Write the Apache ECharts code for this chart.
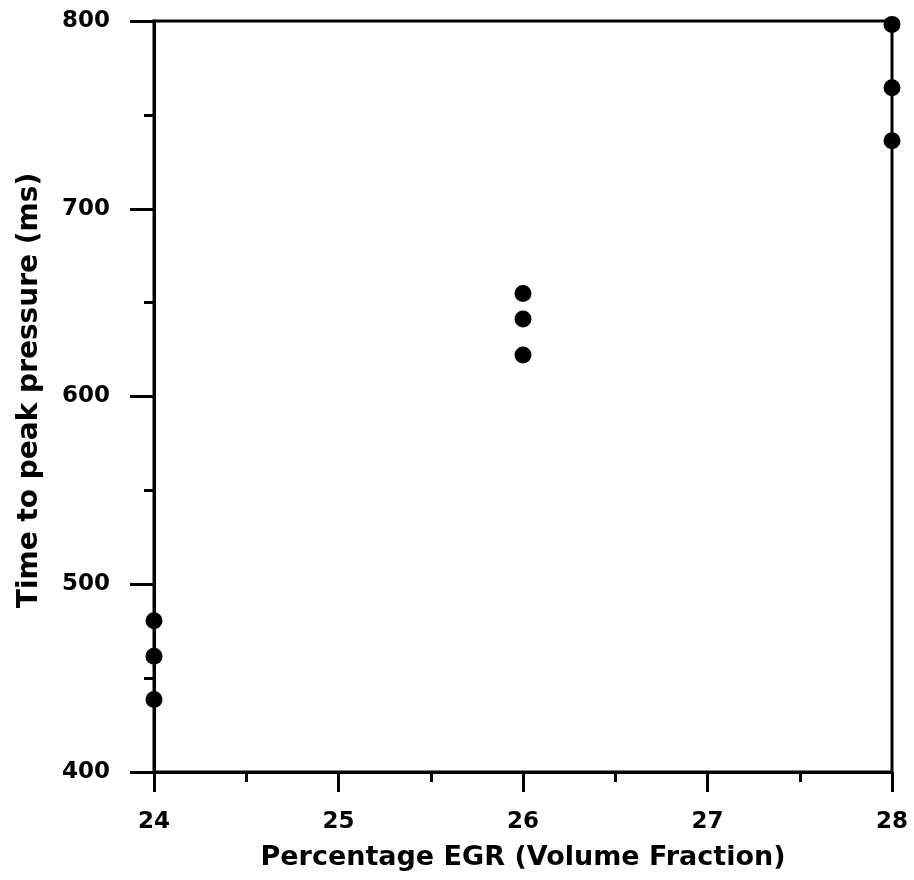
<!DOCTYPE html>
<html><head><meta charset="utf-8">
<script src="https://cdn.jsdelivr.net/npm/echarts@6/dist/echarts.min.js"></script>
<style>html,body{margin:0;padding:0;background:#fff}#c{width:914px;height:880px}</style>
</head><body><div id="c"></div>
<script>
const egr = [24, 24, 24, 26, 26, 26, 28, 28, 28];
const timeToPeak = [480.5, 461.7, 438.6, 654.8, 641.3, 622.1, 798.2, 764.4, 736.2];
const xTitle = 'Percentage EGR (Volume Fraction)';
const yTitle = 'Time to peak pressure (ms)';

const chart = echarts.init(document.getElementById('c'));
const font = '"DejaVu Sans", Verdana, sans-serif';
chart.setOption({
  animation: false,
  backgroundColor: '#fff',
  grid: {left: 154, right: 22, top: 21, bottom: 108, show: true, borderColor: '#000', borderWidth: 3, backgroundColor: 'transparent'},
  xAxis: {
    type: 'value', min: 24, max: 28, interval: 1,
    name: xTitle, nameLocation: 'middle', nameGap: 72,
    nameTextStyle: {fontFamily: font, fontWeight: 'bold', fontSize: 27, color: '#000'},
    axisLine: {show: true, lineStyle: {color: '#000', width: 3}},
    axisTick: {show: true, length: 20, lineStyle: {color: '#000', width: 3}},
    minorTick: {show: true, splitNumber: 2, length: 10, lineStyle: {color: '#000', width: 3}},
    splitLine: {show: false},
    axisLabel: {fontFamily: font, fontWeight: 'bold', fontSize: 23, color: '#000', margin: 39}
  },
  yAxis: {
    type: 'value', min: 400, max: 800, interval: 100,
    name: yTitle, nameLocation: 'middle', nameGap: 110, nameRotate: 90,
    nameTextStyle: {fontFamily: font, fontWeight: 'bold', fontSize: 28, color: '#000', padding: [0, 0, 0, 12]},
    axisLine: {show: true, lineStyle: {color: '#000', width: 3}},
    axisTick: {show: true, length: 24, lineStyle: {color: '#000', width: 3}},
    minorTick: {show: true, splitNumber: 2, length: 10, lineStyle: {color: '#000', width: 3}},
    splitLine: {show: false},
    axisLabel: {fontFamily: font, fontWeight: 'bold', fontSize: 23, color: '#000', margin: 44}
  },
  series: [{
    type: 'scatter',
    data: egr.map((x, i) => [x, timeToPeak[i]]),
    symbol: 'circle', symbolSize: 17,
    itemStyle: {color: '#000', opacity: 1},
    clip: false
  }]
});
</script></body></html>
